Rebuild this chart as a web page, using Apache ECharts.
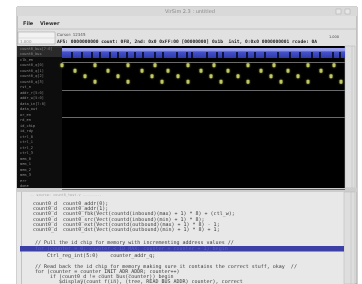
<!DOCTYPE html>
<html>
<head>
<meta charset="utf-8">
<script src="https://cdn.jsdelivr.net/npm/echarts@6/dist/echarts.min.js"></script>
<style>
  html, body { margin: 0; padding: 0; background: #fff; }
  #chart { width: 362px; height: 284px; }
</style>
</head>
<body>
<div id="chart"></div>
<script>
// signal rows of the waveform pane, top to bottom
const signalNames = [
  'count0_bus[7:0]', 'count0_bus', 'clk_en', 'count0_q[0]', 'count0_q[1]',
  'count0_q[2]', 'count0_q[3]', 'rst_n', 'addr_r[5:0]', 'addr_w[5:0]',
  'data_in[7:0]', 'data_out', 'wr_en', 'rd_en', 'id_chip',
  'id_rdy', 'ctrl_0', 'ctrl_1', 'ctrl_2', 'ctrl_3',
  'mem_0', 'mem_1', 'mem_2', 'mem_3', 'err', 'done'
];
const separatorRows = [3, 8, 13];

// sample times (ns) of the yellow dots, one list per row
const dotRows = [3, 4, 5, 6];
const dotTimes = [
  [0, 33, 66, 93, 126, 152, 186, 212, 246, 272],
  [13, 46, 80, 106, 139, 166, 199, 226, 259],
  [23, 56, 90, 116, 149, 176, 209, 236, 269],
  [33, 66, 100, 126, 159, 186, 219, 246, 279]
];

// bus row: times where the bus drops low
const busGapTimes = [10, 20, 30, 38, 48, 56, 65, 73, 81, 93, 101, 115, 125, 130,
  145, 155, 161, 175, 185, 193, 203, 216, 228, 238, 250, 258, 271, 278];
const busLowLevel = 0.3;
const timeMax = 283;

// source pane text
const codeLines = [
  ['count0_d  count0_addr(0);', 33, 204],
  ['count0_d  count0_addr(1);', 33, 209],
  ['count0_d  count0_fbk(Vect(countd(inbound)(max) + 1) * 8) + (ctl_w);', 33, 214],
  ['count0_d  count0_src(Vect(countd(inbound)(min) + 1) * 8);', 33, 219.5],
  ['count0_d  count0_ext(Vect(countd(outbound)(max) + 1) * 8) - 1;', 33, 224.5],
  ['count0_d  count0_dst(Vect(countd(outbound)(min) + 1) * 8) + 1;', 33, 229.5],
  ['// Pull the id chip for memory with incrementing address values //', 35, 242.5],
  ['Ctrl_reg_int(5:0)    counter_addr_q;', 47, 256],
  ['// Read back the id chip for memory making sure it contains the correct stuff, okay  //', 35, 266.5],
  ['for (counter = counter_INIT_ADR_ADDR; counter++)', 35, 271.5],
  ['   if (count0_d != count_bus(counter)) begin', 41, 276.5],
  ['      $display(count_f(in), (tree, READ_BUS_ADDR) counter), correct', 41, 281.5]
];
const bandLine = 'for (counter = 0; counter < ID_MAX; counter = counter + 1) begin';

const statusText = 'AFS: 0000000000 count: 0FB, 2nd: 0x0 0xFF:00 [00000000] 0x1b  init, 0:0x0 0000000001 rcode: 0A';

const chart = echarts.init(document.getElementById('chart'));

const mono = '"DejaVu Sans Mono", monospace';
const sans = '"DejaVu Sans", sans-serif';

const graphic = [
  { type: 'rect', shape: { x: 17, y: 7, width: 340, height: 277 }, style: { fill: '#e1e1e1', stroke: '#a0a0a0', lineWidth: 1 } },
  { type: 'rect', shape: { x: 17, y: 7, width: 340, height: 9 }, style: { fill: '#d9d9d9' } },
  { type: 'text', x: 190, y: 11.5, style: { text: 'VirSim 2.3 : untitled', font: '5px ' + sans, fill: '#8a8a8a', align: 'center', verticalAlign: 'middle' } },
  { type: 'rect', shape: { x: 336, y: 9, width: 5, height: 5 }, style: { fill: '#e6e6e6', stroke: '#aaa', lineWidth: 0.5 } },
  { type: 'rect', shape: { x: 345, y: 9, width: 5, height: 5 }, style: { fill: '#e6e6e6', stroke: '#aaa', lineWidth: 0.5 } },
  { type: 'text', x: 23, y: 24, style: { text: 'File', font: 'bold 5px ' + sans, fill: '#333', verticalAlign: 'middle' } },
  { type: 'text', x: 40, y: 24, style: { text: 'Viewer', font: 'bold 5px ' + sans, fill: '#333', verticalAlign: 'middle' } },
  { type: 'line', shape: { x1: 17, y1: 29, x2: 357, y2: 29 }, style: { stroke: '#c4c4c4', lineWidth: 1 } },
  { type: 'rect', shape: { x: 18, y: 32, width: 37, height: 12 }, style: { fill: '#f2f2f2', stroke: '#9a9a9a', lineWidth: 0.5 } },
  { type: 'line', shape: { x1: 18, y1: 38, x2: 55, y2: 38 }, style: { stroke: '#c8c8c8', lineWidth: 0.5 } },
  { type: 'text', x: 20, y: 41.5, style: { text: '1.000', font: '4px ' + sans, fill: '#999', verticalAlign: 'middle' } },
  { type: 'text', x: 57, y: 35, style: { text: 'Cursor: 12345', font: '4px ' + sans, fill: '#555', verticalAlign: 'middle' } },
  { type: 'text', x: 57, y: 41.5, style: { text: statusText, font: 'bold 4.6px ' + mono, fill: '#222', verticalAlign: 'middle' } },
  { type: 'text', x: 329, y: 37.5, style: { text: '1.000', font: '3.5px ' + sans, fill: '#444', verticalAlign: 'middle' } },
  // waveform pane
  { type: 'rect', shape: { x: 17, y: 46, width: 328, height: 142 }, style: { fill: '#000' } },
  { type: 'rect', shape: { x: 17, y: 46, width: 45, height: 142 }, style: { fill: '#0d0d0d' } },
  { type: 'rect', shape: { x: 17, y: 46, width: 45, height: 11 }, style: { fill: '#2a2a2a' } },
  { type: 'rect', shape: { x: 345, y: 46, width: 10, height: 142 }, style: { fill: '#dedede', stroke: '#b4b4b4', lineWidth: 0.5 } },
  { type: 'line', shape: { x1: 352, y1: 46, x2: 352, y2: 188 }, style: { stroke: '#b8b8b8', lineWidth: 0.5 } },
  { type: 'rect', shape: { x: 17, y: 188, width: 340, height: 4 }, style: { fill: '#cdcdcd' } },
  // source pane
  { type: 'rect', shape: { x: 17, y: 192, width: 327, height: 92 }, style: { fill: '#e8e8e8' } },
  { type: 'line', shape: { x1: 21.5, y1: 192, x2: 21.5, y2: 284 }, style: { stroke: '#c2c2c2', lineWidth: 1 } },
  { type: 'rect', shape: { x: 344, y: 192, width: 11, height: 92 }, style: { fill: '#dedede', stroke: '#b4b4b4', lineWidth: 0.5 } },
  { type: 'line', shape: { x1: 351, y1: 192, x2: 351, y2: 284 }, style: { stroke: '#b8b8b8', lineWidth: 0.5 } },
  { type: 'text', x: 30, y: 195, style: { text: '-- source: count0_test.v ---------', font: '3.5px ' + mono, fill: '#aaa', verticalAlign: 'middle' } },
  { type: 'rect', shape: { x: 20, y: 246, width: 324, height: 5.5 }, style: { fill: '#3b3fa6' } },
  { type: 'text', x: 35, y: 248.7, style: { text: bandLine, font: '5px ' + mono, fill: '#5c62c4', verticalAlign: 'middle' } }
];
codeLines.forEach(([text, x, y]) => {
  graphic.push({ type: 'text', x, y, style: { text, font: '5px ' + mono, fill: '#3a3a3a', verticalAlign: 'middle' } });
});

const dotSeries = dotTimes.map((times, i) => ({
  type: 'scatter',
  xAxisIndex: 1,
  yAxisIndex: 1,
  symbol: 'roundRect',
  symbolSize: [3, 4],
  itemStyle: { color: '#dde276', shadowBlur: 2, shadowColor: 'rgba(190,200,70,0.8)' },
  data: times.map((t) => [t, dotRows[i]]),
  silent: true,
}));

chart.setOption({
  animation: false,
  graphic: { elements: graphic },
  grid: [
    { left: 62, top: 48, width: 283, height: 10 },
    { left: 62, top: 46, width: 283, height: 143 },
  ],
  xAxis: [
    { gridIndex: 0, type: 'value', min: 0, max: timeMax, show: false },
    { gridIndex: 1, type: 'value', min: 0, max: timeMax, show: false },
  ],
  yAxis: [
    { gridIndex: 0, type: 'value', min: 0, max: 1, show: false },
    {
      gridIndex: 1,
      type: 'category',
      inverse: true,
      data: signalNames,
      axisLine: { show: false },
      axisTick: { show: false },
      axisLabel: {
        align: 'left',
        margin: 42,
        fontSize: 3.6,
        fontFamily: mono,
        color: '#8c8c8c',
        interval: 0,
      },
      splitLine: {
        show: true,
        interval: (i) => separatorRows.includes(i),
        lineStyle: { color: '#6a6a6a', width: 1 },
      },
    },
  ],
  series: [
    {
      type: 'line',
      xAxisIndex: 0,
      yAxisIndex: 0,
      symbol: 'none',
      lineStyle: { width: 0 },
      areaStyle: {
        opacity: 1,
        color: new echarts.graphic.LinearGradient(0, 0, 0, 1, [
          { offset: 0, color: '#9ca2ee' },
          { offset: 0.3, color: '#8c94e8' },
          { offset: 0.38, color: '#4652cc' },
          { offset: 1, color: '#2e3aa8' },
        ]),
      },
      data: [[0, 1], [timeMax, 1]],
      silent: true,
    },
    {
      type: 'scatter',
      xAxisIndex: 0,
      yAxisIndex: 0,
      symbol: 'rect',
      symbolSize: [2, 6],
      z: 5,
      itemStyle: { color: '#05051a' },
      data: busGapTimes.map((t) => [t, busLowLevel]),
      silent: true,
    },
    ...dotSeries,
  ],
});
</script>
</body>
</html>
